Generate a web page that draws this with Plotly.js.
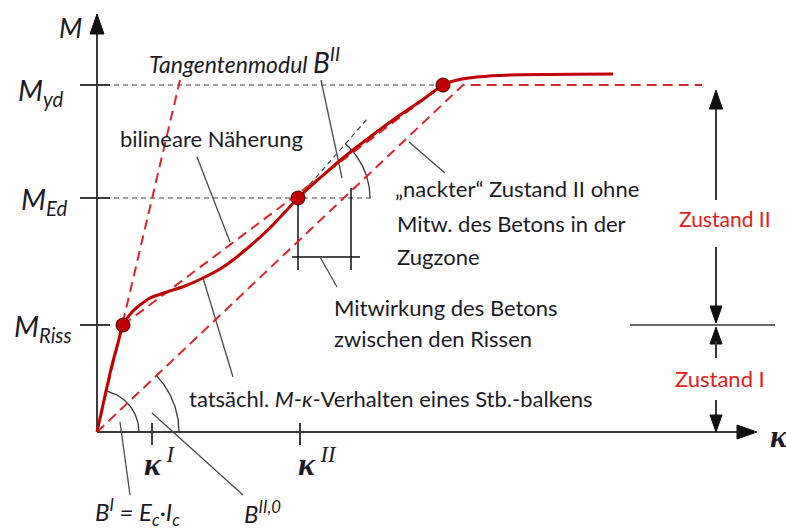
<!DOCTYPE html>
<html>
<head>
<meta charset="utf-8">
<script src="https://cdn.plot.ly/plotly-3.0.1.min.js"></script>
<style>
  html, body { margin: 0; padding: 0; background: #ffffff; }
  #chart { width: 786px; height: 529px; }
</style>
</head>
<body>
<div id="chart"></div>
<script>
// Diagram units: curvature κ to the right, moment M upwards, origin at the axes' corner.
const M_RISS = 107, M_ED = 234, M_YD = 347;
const K_RISS = 26, K_ED = 201, K_YD = 346, K_I = 55, K_II = 203, K_Y0 = 366, K_END = 605;

// actual M-κ behaviour of a reinforced concrete beam
const curveK = [0, 7, 15, 21, 26, 35, 43, 53, 70, 88, 106, 123, 136, 153, 173, 188, 201, 223, 246, 273, 303, 328, 346, 353, 365, 380, 413, 516];
const curveM = [0, 32, 67, 89, 107, 120, 127, 134, 140, 146, 154, 163, 172, 186, 204, 220, 234, 254, 274, 295, 317, 334, 347, 350, 353, 355, 357, 358];

// marked states: cracking, design moment, yielding
const pointK = [K_RISS, K_ED, K_YD];
const pointM = [M_RISS, M_ED, M_YD];

// uncracked stiffness B^I (tangent at the origin)
const stiffIK = [0, 83];
const stiffIM = [0, 352];
// bilinear approximation
const bilinK = [K_RISS, K_YD];
const bilinM = [M_RISS, M_YD];
// "naked" state II without tension stiffening
const nakedK = [0, K_Y0, K_END];
const nakedM = [0, M_YD, M_YD];
// tangent modulus B^II at M_Ed
const tangK = [K_ED, 271];
const tangM = [M_ED, 314];

// level lines and ticks
const levelM = [M_YD, M_ED];
const levelEndK = [K_YD, 278];
const yTickM = [M_YD, M_ED, M_RISS];
const xTickK = [K_I, K_II];

// tension stiffening bracket
const bracketLeftK = [K_ED, K_ED], bracketLeftM = [M_ED, 162];
const bracketRightK = [254, 254], bracketRightM = [244, 162];
const bracketBarK = [195, 263], bracketBarM = [175, 175];

// leader lines (start, end)
const leaders = {
  tangent:   [[224, 352], [245, 254]],
  bilinear:  [[100, 275], [133, 190]],
  naked:     [[312, 290], [348, 259]],
  tension:   [[223, 175], [240, 145]],
  actual:    [[106, 154], [136, 55]],
  stiffI:    [[23, 10], [33, -63]],
  stiffII0:  [[55, 19], [146, -63]]
};

// state range markers on the right
const K_STATE = 619;
const stateSplitK = [533, 678];

const RED = '#c00000';
const RED_DASH = '#d8262e';
const INK = '#1b1b28';
const LINE = '#3a3a3a';
const FONT = 'Lato, "Open Sans", sans-serif';
const SERIF = '"Liberation Serif", serif';

const traces = [];
function seg(k, m, color, width, dash) {
  traces.push({ x: k, y: m, type: 'scatter', mode: 'lines', hoverinfo: 'skip',
    line: { color: color, width: width, dash: dash || 'solid' } });
}
function arc(cK, cM, r, a0, a1, color, width) {
  const k = [], m = [];
  for (let i = 0; i <= 48; i++) {
    const a = (a0 + (a1 - a0) * i / 48) * Math.PI / 180;
    k.push(cK + r * Math.cos(a));
    m.push(cM + r * Math.sin(a));
  }
  seg(k, m, color, width);
}
function head(tipK, tipM, dirK, dirM, len, half, color) {
  const bK = tipK - dirK * len, bM = tipM - dirM * len;
  const pK = -dirM * half, pM = dirK * half;
  traces.push({ x: [tipK, bK + pK, bK - pK, tipK], y: [tipM, bM + pM, bM - pM, tipM],
    type: 'scatter', mode: 'lines', fill: 'toself', fillcolor: color,
    line: { color: color, width: 1 }, hoverinfo: 'skip' });
}
const deg = (k, m) => Math.atan2(m, k) * 180 / Math.PI;

// axes with arrows
seg([0, 0], [0, 399], LINE, 2);
head(0, 418, 0, 1, 20, 7, '#111');
seg([0, 640], [0, 0], LINE, 2);
head(660, 0, 1, 0, 20, 7, '#111');

// axis ticks
yTickM.forEach(m => seg([-17, 13], [m, m], LINE, 2));
xTickK.forEach(k => seg([k, k], [9, -13], LINE, 2));

// dashed level lines
levelM.forEach((m, i) => seg([17, levelEndK[i]], [m, m], '#444444', 1.2, '5px,4px'));

// tangent line and angle markers
seg(tangK, tangM, '#444444', 1.2, '5px,4px');
arc(K_ED, M_ED, 72, 0, deg(tangK[1] - K_ED, tangM[1] - M_ED), LINE, 1.3);
arc(0, 0, 42, 0, deg(stiffIK[1], stiffIM[1]), LINE, 1.3);
arc(0, 0, 82, 0, deg(K_Y0, M_YD), LINE, 1.3);

// bracket for tension stiffening
seg(bracketLeftK, bracketLeftM, '#111', 1.5);
seg(bracketRightK, bracketRightM, '#111', 1.5);
seg(bracketBarK, bracketBarM, '#111', 1.5);

// leaders
Object.values(leaders).forEach(p => seg([p[0][0], p[1][0]], [p[0][1], p[1][1]], '#4a4a4a', 1.3));

// red dashed reference lines
seg(stiffIK, stiffIM, RED_DASH, 2, '10px,6px');
seg(bilinK, bilinM, RED_DASH, 2, '10px,6px');
seg(nakedK, nakedM, RED_DASH, 2, '10px,6px');

// actual curve
traces.push({ x: curveK, y: curveM, type: 'scatter', mode: 'lines', hoverinfo: 'skip',
  line: { color: RED, width: 3, shape: 'spline', smoothing: 0.8 } });
traces.push({ x: pointK, y: pointM, type: 'scatter', mode: 'markers', hoverinfo: 'skip',
  marker: { size: 14, color: RED, line: { color: '#4a0000', width: 1 } } });

// state range arrows
seg([K_STATE, K_STATE], [323, 232], LINE, 2);
head(K_STATE, 342, 0, 1, 19, 6.5, '#111');
seg([K_STATE, K_STATE], [185, 125], LINE, 2);
head(K_STATE, M_RISS + 2, 0, -1, 17, 6, '#111');
seg(stateSplitK, [M_RISS, M_RISS], LINE, 1.5);
head(K_STATE, M_RISS - 2, 0, 1, 17, 6, '#111');
seg([K_STATE, K_STATE], [91, 74], LINE, 2);
seg([K_STATE, K_STATE], [32, 17], LINE, 2);
head(K_STATE, 0, 0, -1, 17, 6, '#111');

function txt(k, m, text, size, color, family) {
  return { x: k, y: m, xref: 'x', yref: 'y', text: text, showarrow: false,
    xanchor: 'left', yanchor: 'middle', font: { family: family || FONT, size: size, color: color || INK } };
}
const annotations = [
  txt(-40, 405, '<i>M</i>', 27),
  txt(-81, 341, '<i>M<sub>yd</sub></i>', 29),
  txt(-78, 232, '<i>M<sub>Ed</sub></i>', 29),
  txt(-85, 105, '<i>M<sub>Riss</sub></i>', 29),
  txt(671, -4, '<b><i>κ</i></b>', 32, INK, SERIF),
  txt(45, -30, '<b><i>κ</i></b><i><sup> I</sup></i>', 32, INK, SERIF),
  txt(199, -30, '<b><i>κ</i></b><i><sup> II</sup></i>', 32, INK, SERIF),
  txt(-4, -80, '<i>B<sup>I</sup> = E<sub>c</sub>·I<sub>c</sub></i>', 24),
  txt(145, -80, '<i>B<sup>II,0</sup></i>', 24),
  txt(50, 372, '<i>Tangentenmodul <span style="font-size:28px">B<sup>II</sup></span></i>', 23),
  txt(21, 294, 'bilineare Näherung', 22),
  txt(296, 244, '„nackter“ Zustand II ohne', 22),
  txt(298, 209, 'Mitw. des Betons in der', 22),
  txt(298, 176, 'Zugzone', 22),
  txt(235, 125, 'Mitwirkung des Betons', 22),
  txt(235, 94, 'zwischen den Rissen', 22),
  txt(90, 34, 'tatsächl. <i>M</i>-<i>κ</i>-Verhalten eines Stb.-balkens', 22),
  txt(580, 214, 'Zustand II', 21, '#e0201c'),
  txt(576, 54, 'Zustand I', 22, '#e0201c')
];

const layout = {
  width: 786, height: 529,
  margin: { l: 0, r: 0, t: 0, b: 0 },
  paper_bgcolor: '#ffffff', plot_bgcolor: '#ffffff',
  showlegend: false,
  xaxis: { range: [-97, 689], visible: false, fixedrange: true },
  yaxis: { range: [-97, 432], visible: false, fixedrange: true },
  annotations: annotations
};

Plotly.newPlot('chart', traces, layout, { staticPlot: true, displayModeBar: false });
</script>
</body>
</html>
